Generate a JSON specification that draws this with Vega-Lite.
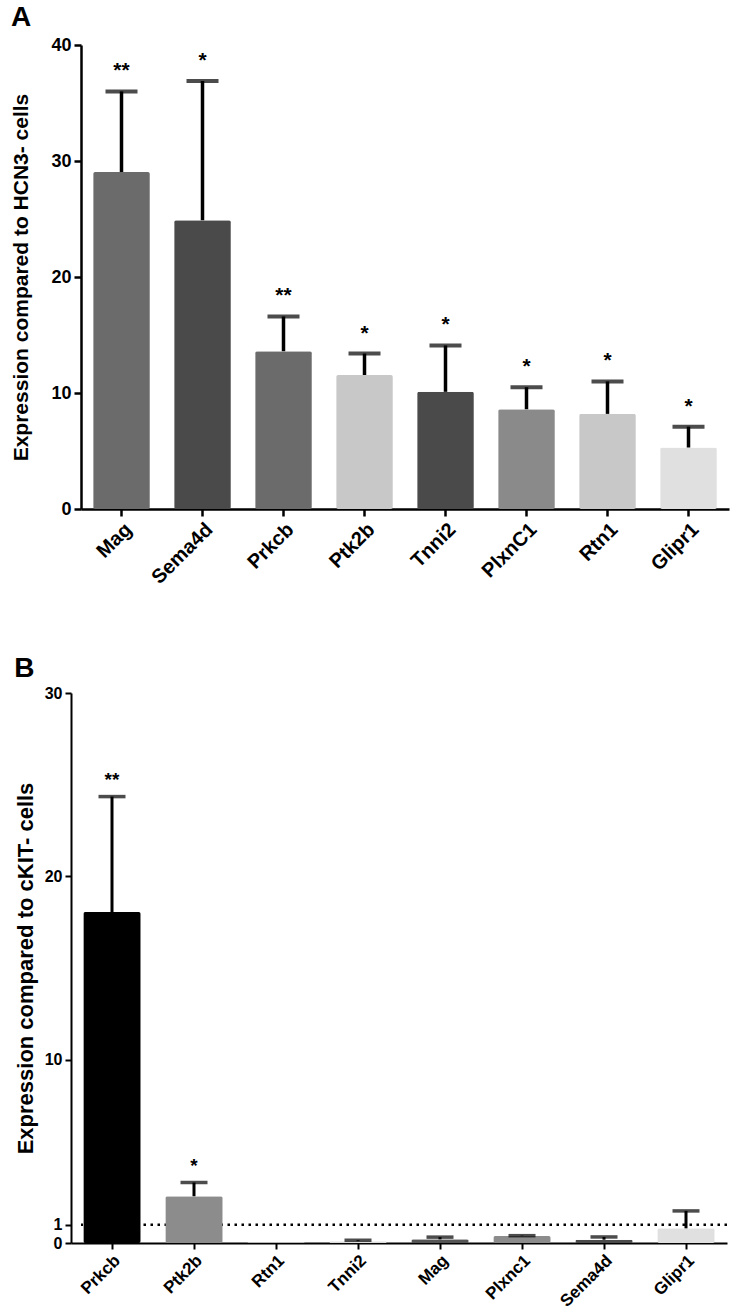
{
  "$schema": "https://vega.github.io/schema/vega-lite/v6.json",
  "background": "white",
  "padding": {"left": 10, "top": 4, "right": 0, "bottom": 0},
  "spacing": 67,
  "columns": 1,
  "align": "none",
  "resolve": {"scale": {"color": "independent", "x": "independent", "y": "independent"}},
  "config": {
    "view": {"stroke": null},
    "font": "Liberation Sans",
    "axis": {"labelFont": "Liberation Sans", "titleFont": "Liberation Sans", "labelFontWeight": "bold", "titleFontWeight": "bold", "labelColor": "black", "titleColor": "black", "domainColor": "black", "tickColor": "black", "grid": false},
    "title": {"font": "Liberation Sans", "fontWeight": "bold", "color": "black", "anchor": "start", "frame": "bounds"}
  },
  "concat": [
    {
      "title": {"text": "A", "fontSize": 28, "offset": 4},
      "width": 648,
      "height": 464,
      "data": {"values": [
        {"gene": "Mag", "value": 29.05, "hi": 36.0, "sig": "**"},
        {"gene": "Sema4d", "value": 24.9, "hi": 36.9, "sig": "*"},
        {"gene": "Prkcb", "value": 13.6, "hi": 16.6, "sig": "**"},
        {"gene": "Ptk2b", "value": 11.55, "hi": 13.4, "sig": "*"},
        {"gene": "Tnni2", "value": 10.1, "hi": 14.1, "sig": "*"},
        {"gene": "PlxnC1", "value": 8.6, "hi": 10.5, "sig": "*"},
        {"gene": "Rtn1", "value": 8.2, "hi": 11.0, "sig": "*"},
        {"gene": "Glipr1", "value": 5.3, "hi": 7.1, "sig": "*"}
      ]},
      "encoding": {
        "x": {"field": "gene", "type": "nominal", "sort": null,
          "scale": {"paddingInner": 0.3, "paddingOuter": 0.15},
          "axis": {"title": null, "labelAngle": -45, "labelFontSize": 20, "tickSize": 7, "tickWidth": 2.5, "domainWidth": 2.5, "labelPadding": 3}}
      },
      "layer": [
        {
          "mark": {"type": "bar", "cornerRadius": 2},
          "encoding": {
            "y": {"field": "value", "type": "quantitative", "scale": {"domain": [0, 40], "nice": false},
              "axis": {"title": "Expression compared to HCN3- cells", "values": [0, 10, 20, 30, 40], "labelFontSize": 18, "titleFontSize": 21, "tickSize": 7, "tickWidth": 2.5, "domainWidth": 2.5, "titlePadding": 19, "labelPadding": 3}},
            "color": {"field": "gene", "type": "nominal", "legend": null,
              "scale": {"domain": ["Mag", "Sema4d", "Prkcb", "Ptk2b", "Tnni2", "PlxnC1", "Rtn1", "Glipr1"],
                "range": ["#6b6b6b", "#4a4a4a", "#6b6b6b", "#c8c8c8", "#4a4a4a", "#8a8a8a", "#c8c8c8", "#e0e0e0"]}}
          }
        },
        {
          "mark": {"type": "rule", "strokeWidth": 3.5, "color": "black"},
          "encoding": {"y": {"field": "value", "type": "quantitative"}, "y2": {"field": "hi"}}
        },
        {
          "mark": {"type": "tick", "thickness": 4, "size": 32, "color": "black"},
          "encoding": {"y": {"field": "hi", "type": "quantitative"}}
        },
        {
          "mark": {"type": "text", "dy": -20, "fontSize": 21, "fontWeight": "bold", "color": "black"},
          "encoding": {"y": {"field": "hi", "type": "quantitative"}, "text": {"field": "sig"}}
        }
      ]
    },
    {
      "title": {"text": "B", "fontSize": 28, "offset": 2},
      "width": 646,
      "height": 550,
      "resolve": {"scale": {"color": "independent"}},
      "layer": [
        {
          "data": {"values": [{"ref": 1}]},
          "mark": {"type": "rule", "strokeDash": [2.5, 4.5], "strokeWidth": 2.5, "color": "black"},
          "encoding": {"y": {"field": "ref", "type": "quantitative"}}
        },
        {
          "data": {"name": "b"},
          "mark": {"type": "bar", "cornerRadius": 2},
          "encoding": {
            "x": {"field": "gene", "type": "nominal", "sort": null,
              "scale": {"paddingInner": 0.3, "paddingOuter": 0.15, "range": [-10, 646]},
              "axis": {"title": null, "labelAngle": -45, "labelFontSize": 17, "tickSize": 6, "tickWidth": 2, "domainWidth": 2, "labelPadding": 3}},
            "y": {"field": "value", "type": "quantitative", "scale": {"domain": [0, 30], "nice": false},
              "axis": {"title": "Expression compared to cKIT- cells", "values": [0, 1, 10, 20, 30], "labelFontSize": 16, "titleFontSize": 22, "tickSize": 6, "tickWidth": 2, "domainWidth": 2, "titlePadding": 7, "labelPadding": 3, "offset": 10}},
            "color": {"field": "gene", "type": "nominal", "legend": null,
              "scale": {"domain": ["Prkcb", "Ptk2b", "Rtn1", "Tnni2", "Mag", "Plxnc1", "Sema4d", "Glipr1"],
                "range": ["#000000", "#8c8c8c", "#b8b8b8", "#dcdcdc", "#555555", "#8c8c8c", "#4a4a4a", "#e0e0e0"]}}
          }
        },
        {
          "data": {"name": "b"},
          "mark": {"type": "rule", "strokeWidth": 3, "color": "black"},
          "encoding": {"x": {"field": "gene", "type": "nominal", "sort": null}, "y": {"field": "value", "type": "quantitative"}, "y2": {"field": "hi"}}
        },
        {
          "data": {"name": "b"},
          "mark": {"type": "tick", "thickness": 3.5, "size": 27, "color": "black"},
          "encoding": {"x": {"field": "gene", "type": "nominal", "sort": null}, "y": {"field": "hi", "type": "quantitative"}}
        },
        {
          "data": {"name": "b"},
          "mark": {"type": "text", "dy": -17, "fontSize": 19, "fontWeight": "bold", "color": "black"},
          "encoding": {"x": {"field": "gene", "type": "nominal", "sort": null}, "y": {"field": "hi", "type": "quantitative"}, "text": {"field": "sig"}}
        }
      ]
    }
  ],
  "datasets": {
    "b": [
      {"gene": "Prkcb", "value": 18.05, "hi": 24.35, "sig": "**"},
      {"gene": "Ptk2b", "value": 2.55, "hi": 3.3, "sig": "*"},
      {"gene": "Rtn1", "value": 0.05, "hi": null, "sig": ""},
      {"gene": "Tnni2", "value": 0.1, "hi": 0.15, "sig": ""},
      {"gene": "Mag", "value": 0.2, "hi": 0.32, "sig": ""},
      {"gene": "Plxnc1", "value": 0.38, "hi": 0.4, "sig": ""},
      {"gene": "Sema4d", "value": 0.18, "hi": 0.33, "sig": ""},
      {"gene": "Glipr1", "value": 0.8, "hi": 1.75, "sig": ""}
    ]
  }
}
